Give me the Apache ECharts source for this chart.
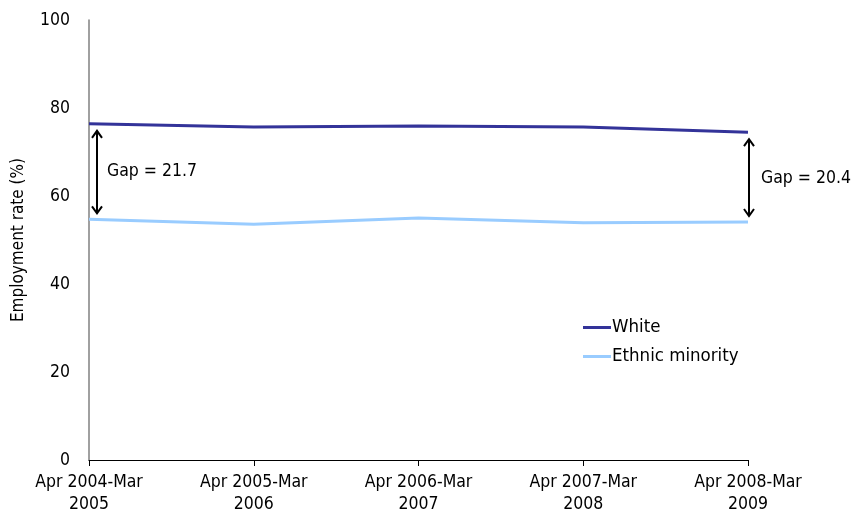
<!DOCTYPE html>
<html><head><meta charset="utf-8">
<script src="https://cdn.jsdelivr.net/npm/echarts@6/dist/echarts.min.js"></script>
<style>html,body{margin:0;padding:0;background:#fff}#c{width:852px;height:519px}</style>
</head><body><div id="c"></div>
<script>
var categories = ['Apr 2004-Mar\n2005','Apr 2005-Mar\n2006','Apr 2006-Mar\n2007','Apr 2007-Mar\n2008','Apr 2008-Mar\n2009'];
var whiteValues = [76.4, 75.7, 75.9, 75.7, 74.5];
var minorityValues = [54.7, 53.6, 55.0, 53.9, 54.1];
var gapLabels = ['Gap = 21.7', 'Gap = 20.4'];
var gapIndex = [0, 4];
var yTicks = [0, 20, 40, 60, 80, 100];

var FONT = '"DejaVu Sans Condensed", "DejaVu Sans", sans-serif';
var gapData = gapIndex.map(function(i, k){
  return [i, whiteValues[i], minorityValues[i], gapLabels[k]];
});

var chart = echarts.init(document.getElementById('c'), null, {renderer:'canvas'});
chart.setOption({
  animation: false,
  textStyle: {fontFamily: FONT},
  grid: {left: 89, right: 104, top: 20, bottom: 59},
  legend: {
    orient: 'vertical', left: 578, top: 313, itemWidth: 28, itemHeight: 3, itemGap: 10,
    icon: 'rect',
    textStyle: {fontFamily: FONT, fontSize: 18.5, color: '#000', padding: [0,0,0,-4]},
    data: ['White', 'Ethnic minority']
  },
  xAxis: {
    type: 'category', data: categories, boundaryGap: false,
    axisLine: {lineStyle: {color: '#000', width: 1}},
    axisTick: {show: true, alignWithLabel: true, length: 6, lineStyle: {color: '#000'}},
    axisLabel: {color: '#000', fontSize: 17.5, lineHeight: 22, margin: 11, fontFamily: FONT}
  },
  yAxis: {
    type: 'value', min: 0, max: 100, interval: 20,
    name: 'Employment rate (%)', nameLocation: 'middle', nameGap: 62, nameRotate: 90,
    nameTextStyle: {fontSize: 17, color: '#000', fontFamily: FONT},
    axisLine: {show: true, lineStyle: {color: '#808080', width: 1.5}},
    axisTick: {show: false},
    splitLine: {show: false},
    axisLabel: {color: '#000', fontSize: 17.5, margin: 19, fontFamily: FONT,
      formatter: function(v){ return yTicks.indexOf(v) >= 0 ? String(v) : ''; }}
  },
  series: [
    {name: 'White', type: 'line', data: whiteValues, symbol: 'none',
     lineStyle: {color: '#333399', width: 3}, itemStyle: {color: '#333399'}},
    {name: 'Ethnic minority', type: 'line', data: minorityValues, symbol: 'none',
     lineStyle: {color: '#99CCFF', width: 3}, itemStyle: {color: '#99CCFF'}},
    {name: 'gaps', type: 'custom', data: gapData, silent: true, z: 5,
     renderItem: function(params, api){
       var idx = api.value(0);
       var top = api.coord([idx, api.value(1)]);
       var bot = api.coord([idx, api.value(2)]);
       var label = gapData[params.dataIndex][3];
       var isFirst = params.dataIndex === 0;
       var x = top[0] + (isFirst ? 8 : 1);
       var y1 = top[1] + 7, y2 = bot[1] - 6;
       var s = {stroke: '#000', lineWidth: 2, fill: null};
       var h = 7, w = 5;
       return {type: 'group', children: [
         {type: 'line', shape: {x1: x, y1: y1, x2: x, y2: y2}, style: s},
         {type: 'polyline', shape: {points: [[x-w, y1+h],[x, y1],[x+w, y1+h]]}, style: s},
         {type: 'polyline', shape: {points: [[x-w, y2-h],[x, y2],[x+w, y2-h]]}, style: s},
         {type: 'text', style: {text: label, x: x + (isFirst ? 10 : 12), y: (y1+y2)/2 + (isFirst ? -1 : 1),
           verticalAlign: 'middle', align: 'left', fill: '#000', fontSize: 17.5, fontFamily: FONT}}
       ]};
     }}
  ]
});
</script></body></html>
